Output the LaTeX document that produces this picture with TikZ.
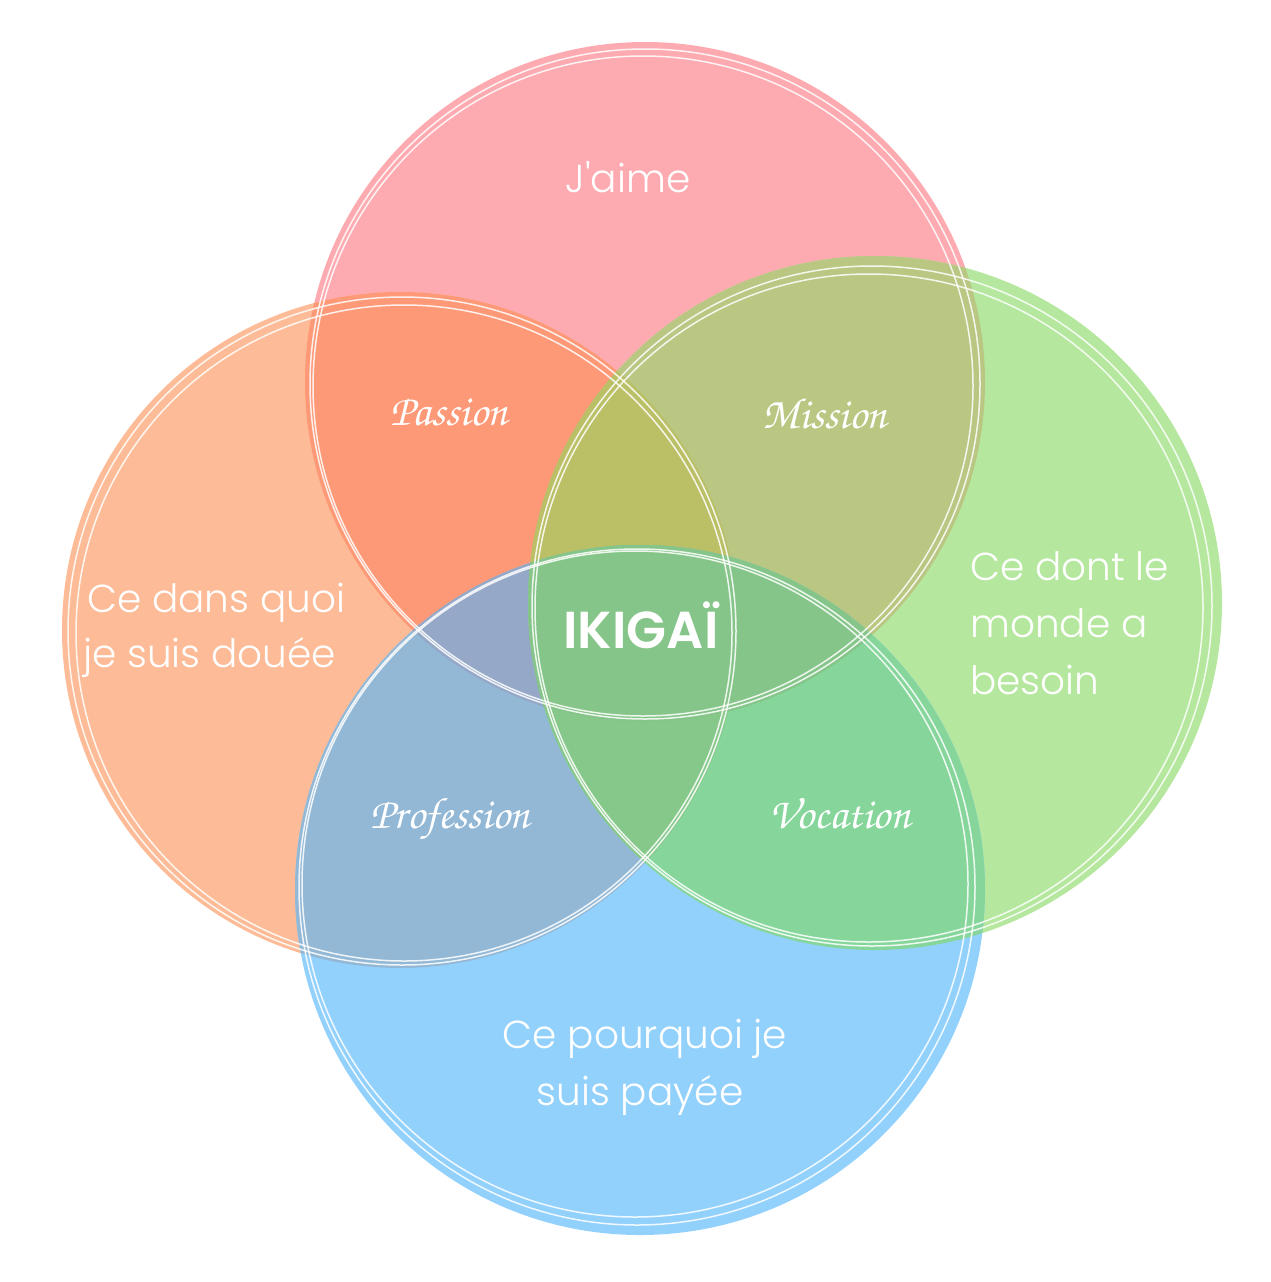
\documentclass[tikz,border=0pt]{standalone}
\usepackage[T1,TU]{fontenc}
\usepackage{fontspec}
\setmainfont{Poppins}[UprightFont=* Light, BoldFont=* SemiBold]
\definecolor{cP}{HTML}{FEAAB1}
\definecolor{cO}{HTML}{FDBC97}
\definecolor{cG}{HTML}{B5E89E}
\definecolor{cB}{HTML}{93D1FD}
\definecolor{cPO}{HTML}{FE9977}
\definecolor{cPG}{HTML}{B9C783}
\definecolor{cPB}{HTML}{A0B4C4}
\definecolor{cOG}{HTML}{B0BE78}
\definecolor{cOB}{HTML}{93B8D6}
\definecolor{cGB}{HTML}{86D69C}
\definecolor{cPOG}{HTML}{BBC066}
\definecolor{cPOB}{HTML}{95A8C8}
\definecolor{cPGB}{HTML}{85C58A}
\definecolor{cOGB}{HTML}{86C88A}
\definecolor{cPOGB}{HTML}{86C589}
\newcommand{\scriptlab}{\fontencoding{T1}\fontfamily{pzc}\fontseries{mb}\fontshape{it}\fontsize{44}{44}\selectfont}
\tikzset{
  ring/.style={draw=white, line width=1.5pt, draw opacity=0.85},
  big/.style={text=white, inner sep=0pt, font=\fontsize{39}{39}\selectfont},
  scr/.style={text=white, inner sep=0pt, anchor=base, font=\scriptlab},
}
\def\PP{(645,382) circle[radius=340]}
\def\OO{(400,630) circle[radius=338]}
\def\GG{(875,603) circle[radius=347]}
\def\BB{(640,890) circle[radius=345]}
\begin{document}
\begin{tikzpicture}[x=1pt,y=-1pt]
\useasboundingbox (0,0) rectangle (1270,1282);
% base fills
\fill[cP] \PP;
\fill[cO] \OO;
\fill[cG] \GG;
\fill[cB] \BB;
% pairs
\begin{scope}\clip \PP; \fill[cPO] \OO; \end{scope}
\begin{scope}\clip \PP; \fill[cPG] \GG; \end{scope}
\begin{scope}\clip \PP; \fill[cPB] \BB; \end{scope}
\begin{scope}\clip \OO; \fill[cOG] \GG; \end{scope}
\begin{scope}\clip \OO; \fill[cOB] \BB; \end{scope}
\begin{scope}\clip \GG; \fill[cGB] \BB; \end{scope}
% triples
\begin{scope}\clip \PP; \clip \OO; \fill[cPOG] \GG; \end{scope}
\begin{scope}\clip \PP; \clip \OO; \fill[cPOB] \BB; \end{scope}
\begin{scope}\clip \PP; \clip \GG; \fill[cPGB] \BB; \end{scope}
\begin{scope}\clip \OO; \clip \GG; \fill[cOGB] \BB; \end{scope}
% quadruple
\begin{scope}\clip \PP; \clip \OO; \clip \GG; \fill[cPOGB] \BB; \end{scope}
% white rings
\draw[ring] (645,384) circle[radius=335];
\draw[ring] (643,386) circle[radius=330];
\draw[ring] (402,631) circle[radius=334];
\draw[ring] (404,633) circle[radius=328];
\draw[ring] (872,606) circle[radius=340];
\draw[ring] (869,608) circle[radius=334];
\draw[ring] (637,887) circle[radius=338];
\draw[ring] (635,884) circle[radius=333];
% texts
\node[big, anchor=base] (jaime) at (628,192) {J\textquotesingle aime};
\node[big, anchor=base west] (don1) at (87,612) {Ce dans quoi};
\node[big, anchor=base west] (don2) at (83,667) {je suis douée};
\node[big, anchor=base west] (mon1) at (970,580) {Ce dont le};
\node[big, anchor=base west] (mon2) at (970,637) {monde a};
\node[big, anchor=base west] (mon3) at (970,694) {besoin};
\node[big, anchor=base] (pay1) at (645,1048) {Ce pourquoi je};
\node[big, anchor=base] (pay2) at (640,1105) {suis payée};
\node[text=white, inner sep=0pt, anchor=base, font=\fontsize{52}{52}\selectfont\bfseries] (iki) at (641,648) {IKIGAÏ};
\node[scr] (passion) at (449,425) {Passion};
\node[scr] (mission) at (825,428) {Mission};
\node[scr] (profession) at (450,828) {Profession};
\node[scr] (vocation) at (840,828) {Vocation};
\end{tikzpicture}
\end{document}
